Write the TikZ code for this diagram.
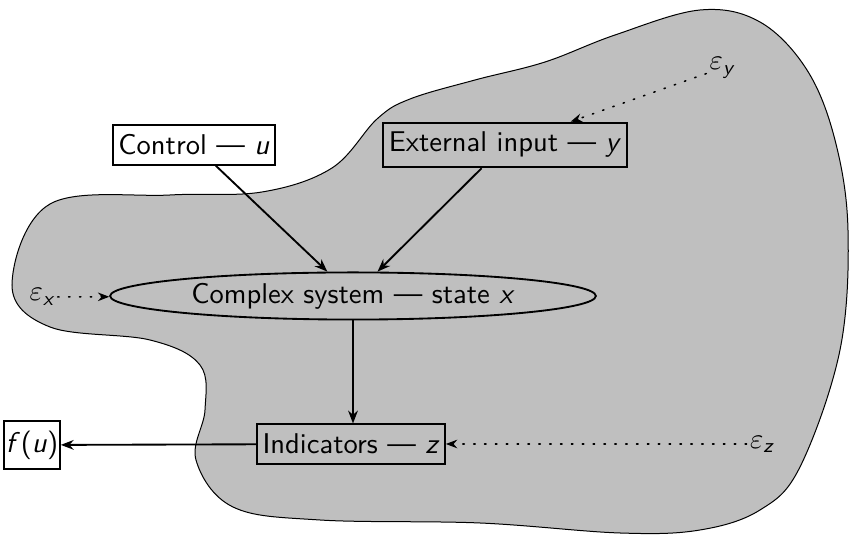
\documentclass[tikz,border=0pt]{standalone}
\usepackage{amsmath}
\usetikzlibrary{shapes.geometric,arrows.meta}
\begin{document}
\begin{tikzpicture}[x=0.35pt,y=-0.35pt, font=\sffamily,
  box/.style={draw, line width=0.65pt, inner xsep=1.9pt, inner ysep=0.333em},
  flow/.style={-{Stealth[length=4.5pt,width=3.4pt]}, line width=0.65pt},
  noise/.style={dash pattern=on 0.5pt off 3.3pt, line cap=round,
                -{Stealth[length=4pt,width=3pt]}, line width=0.55pt},
  lbl/.style={inner sep=1pt}]
\useasboundingbox (0,0) rectangle (849,536);

% the system's environment
\filldraw[fill=black!25, draw=black, line width=0.35pt]
  plot[smooth cycle, tension=0.6] coordinates {
    (12,285) (50,204) (170,195) (262,192) (332,168) (377,119) (410,99)
    (475,80) (545,62) (615,35) (700,10) (760,22) (807,70) (835,140)
    (848,230) (840,350) (800,467) (760,510) (700,530) (620,533)
    (480,523) (320,520) (233,507) (196,460) (205,410) (200,365)
    (150,340) (50,327)};

% blocks
\node[box] (ctrl) at (194,145) {Control — \textit{u}};
\node[box] (ext) at (505,145) {External input — \textit{y}};
\node[draw, ellipse, line width=0.65pt, inner sep=0pt,
      minimum width=170pt, minimum height=16.5pt] (sys) at (353,296)
      {Complex system — state \textit{x}};
\node[box] (ind) at (351,444) {Indicators — \textit{z}};
\node[box, inner xsep=0.6pt] (fu) at (32,445) {\textit{f}\kern0.3pt(\textit{u})};

% disturbances
\node[lbl] (epsx) at (42,297) {$\varepsilon_{\textit{x}}$};
\node[lbl] (epsy) at (722,68) {$\varepsilon_{\textit{y}}$};
\node[lbl] (epsz) at (762,444) {$\varepsilon_{\textit{z}}$};

% connections
\draw[flow] (ctrl) -- (sys);
\draw[flow] (ext) -- (sys);
\draw[flow] (sys.south) -- (sys.south |- ind.north);
\draw[flow] (ind) -- (fu);
\draw[noise] (epsx) -- (sys);
\draw[noise] (epsy) -- (ext);
\draw[noise] (epsz) -- (ind);
\end{tikzpicture}
\end{document}
